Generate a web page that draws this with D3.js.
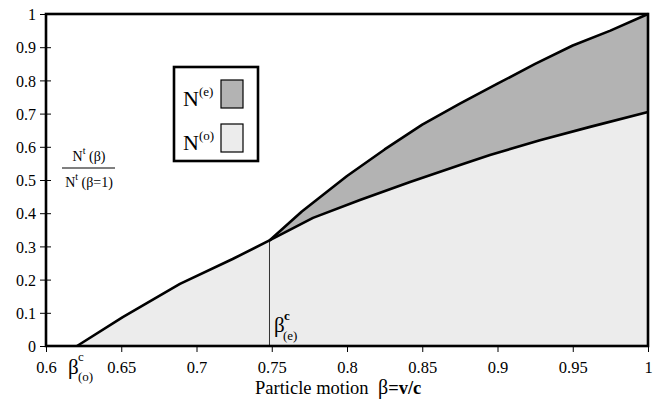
<!DOCTYPE html>
<html><head><meta charset="utf-8">
<script src="https://cdn.jsdelivr.net/npm/d3@7"></script>
<style>body{margin:0;background:#fff} svg text{font-family:"Liberation Serif","Times New Roman",Times,"DejaVu Serif",serif !important;fill:#000}</style>
</head><body><svg id="c" width="653" height="406"></svg>
<script>
// ordinary-wave curve N(o)
const betaO = [0.6206, 0.651, 0.689, 0.724, 0.7485, 0.7774, 0.8086, 0.8419, 0.8751, 0.895, 0.9282, 0.9615, 1.0];
const valO  = [0, 0.087, 0.187, 0.262, 0.318, 0.386, 0.440, 0.494, 0.545, 0.575, 0.620, 0.660, 0.705];
// extraordinary-wave curve N(e)
const betaE = [0.7485, 0.77, 0.80, 0.825, 0.85, 0.875, 0.90, 0.925, 0.95, 0.975, 1.0];
const valE  = [0.318, 0.405, 0.512, 0.592, 0.667, 0.730, 0.790, 0.850, 0.905, 0.950, 1.0];
const betaCE = 0.7485;
const xTicks = [0.6, 0.65, 0.7, 0.75, 0.8, 0.85, 0.9, 0.95, 1];
const xTickLabels = ["0.6", "0.65", "0.7", "0.75", "0.8", "0.85", "0.9", "0.95", "1"];
const yTicks = [0, 0.1, 0.2, 0.3, 0.4, 0.5, 0.6, 0.7, 0.8, 0.9, 1];
const yTickLabels = ["0", "0.1", "0.2", "0.3", "0.4", "0.5", "0.6", "0.7", "0.8", "0.9", "1"];

const svg = d3.select("#c");
const L = 46, R = 648, T = 14, B = 346;
const x = d3.scaleLinear().domain([0.6, 1]).range([L, R]);
const y = d3.scaleLinear().domain([0, 1]).range([B, T]);

const ptsO = betaO.map((b, i) => [b, valO[i]]);
const ptsE = betaE.map((b, i) => [b, valE[i]]);

svg.append("path")
  .attr("d", d3.area().x(d => x(d[0])).y0(y(0)).y1(d => y(d[1]))(ptsO))
  .attr("fill", "#ececec");
const band = ptsE.concat(ptsO.filter(d => d[0] >= betaCE).reverse());
svg.append("path")
  .attr("d", d3.line().x(d => x(d[0])).y(d => y(d[1]))(band) + "Z")
  .attr("fill", "#b3b3b3");

const vIdx = betaO.indexOf(betaCE);
svg.append("line").attr("x1", x(betaCE)).attr("x2", x(betaCE))
  .attr("y1", y(0)).attr("y2", y(valO[vIdx]))
  .attr("stroke", "#333").attr("stroke-width", 1);

const line = d3.line().x(d => x(d[0])).y(d => y(d[1]));
svg.append("path").attr("d", line(ptsO)).attr("fill", "none").attr("stroke", "#000").attr("stroke-width", 2.6).attr("stroke-linejoin", "round");
svg.append("path").attr("d", line(ptsE)).attr("fill", "none").attr("stroke", "#000").attr("stroke-width", 2.6).attr("stroke-linejoin", "round");

svg.append("rect").attr("x", L).attr("y", T).attr("width", R - L).attr("height", B - T)
  .attr("fill", "none").attr("stroke", "#000").attr("stroke-width", 2.6);

const xAxis = d3.axisBottom(x).tickValues(xTicks).tickFormat((d, i) => xTickLabels[i]).tickSize(6).tickSizeOuter(0);
const gx = svg.append("g").attr("transform", `translate(0,${B})`).call(xAxis);
gx.attr("font-family", null);
gx.select(".domain").remove();
gx.selectAll("line").attr("stroke", "#000").attr("stroke-width", 1);
gx.selectAll("text").attr("font-size", 16.5).attr("dy", null).attr("y", 27);

const yAxis = d3.axisLeft(y).tickValues(yTicks).tickFormat((d, i) => yTickLabels[i]).tickSize(6).tickSizeOuter(0);
const gy = svg.append("g").attr("transform", `translate(${L},0)`).call(yAxis);
gy.attr("font-family", null);
gy.select(".domain").remove();
gy.selectAll(".tick line").attr("stroke", "#000").attr("stroke-width", 1).attr("x1", 5);
gy.selectAll("text").attr("font-size", 16).attr("x", -10).attr("dy", "0.35em");

const lg = svg.append("g");
lg.append("rect").attr("x", 174).attr("y", 67).attr("width", 84).attr("height", 94)
  .attr("fill", "#fff").attr("stroke", "#000").attr("stroke-width", 2.6);
lg.append("rect").attr("x", 221).attr("y", 80).attr("width", 22).attr("height", 28)
  .attr("fill", "#b3b3b3").attr("stroke", "#000").attr("stroke-width", 1.2);
lg.append("rect").attr("x", 221).attr("y", 124).attr("width", 22).attr("height", 28)
  .attr("fill", "#ececec").attr("stroke", "#000").attr("stroke-width", 1.2);
const t1 = lg.append("text").attr("x", 183).attr("y", 106).attr("font-size", 22);
t1.append("tspan").text("N");
t1.append("tspan").attr("font-size", 13).attr("dy", -10).text("(e)");
const t2 = lg.append("text").attr("x", 183).attr("y", 150).attr("font-size", 22);
t2.append("tspan").text("N");
t2.append("tspan").attr("font-size", 13).attr("dy", -10).text("(o)");

const num = svg.append("text").attr("x", 89).attr("y", 161).attr("text-anchor", "middle").attr("font-size", 14);
num.append("tspan").text("N");
num.append("tspan").attr("font-size", 10).attr("dy", -7).text("t");
num.append("tspan").attr("dy", 7).text(" (β)");
svg.append("line").attr("x1", 62).attr("x2", 115).attr("y1", 168).attr("y2", 168).attr("stroke", "#000").attr("stroke-width", 1);
const den = svg.append("text").attr("x", 89).attr("y", 187).attr("text-anchor", "middle").attr("font-size", 14);
den.append("tspan").text("N");
den.append("tspan").attr("font-size", 10).attr("dy", -7).text("t");
den.append("tspan").attr("dy", 7).text(" (β=1)");

svg.append("text").attr("x", 68).attr("y", 374).attr("font-size", 21).text("β");
svg.append("text").attr("x", 78).attr("y", 361).attr("font-size", 13).text("c");
svg.append("text").attr("x", 78).attr("y", 381).attr("font-size", 13).text("(o)");

svg.append("text").attr("x", 274).attr("y", 332).attr("font-size", 21).text("β");
svg.append("text").attr("x", 284).attr("y", 320).attr("font-size", 13).attr("font-weight", "bold").text("c");
svg.append("text").attr("x", 283).attr("y", 340).attr("font-size", 13).text("(e)");

svg.append("text").attr("x", 255).attr("y", 394).attr("font-size", 18.5).text("Particle motion");
const xt = svg.append("text").attr("x", 378).attr("y", 394).attr("font-size", 18.5);
xt.append("tspan").attr("font-size", 20).text("β");
xt.append("tspan").attr("font-weight", "bold").text("=v/c");
</script></body></html>
